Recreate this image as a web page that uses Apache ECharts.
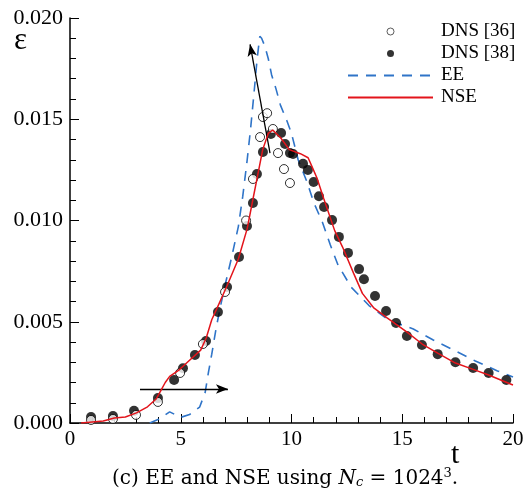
<!DOCTYPE html>
<html>
<head>
<meta charset="utf-8">
<script src="https://cdn.jsdelivr.net/npm/echarts@6/dist/echarts.min.js"></script>
<style>
  html, body { margin: 0; padding: 0; background: #fff; }
  #chart { width: 531px; height: 496px; }
</style>
</head>
<body>
<div id="chart"></div>
<script>
// Dissipation rate epsilon versus time t
const dns36 = [
  [0.95, 0.00015], [1.94, 0.0002], [2.98, 0.0004], [3.97, 0.00104], [4.97, 0.00247],
  [6.0, 0.0039], [7.0, 0.00647], [7.95, 0.0100], [8.26, 0.01205], [8.58, 0.01412],
  [8.71, 0.01511], [8.9, 0.0153], [9.16, 0.01452], [9.39, 0.01333], [9.66, 0.01254],
  [9.93, 0.01185]
];

const dns38 = [
  [0.95, 0.0003], [1.94, 0.00035], [2.89, 0.0006], [3.97, 0.00123], [4.7, 0.00212],
  [5.1, 0.0027], [5.64, 0.00336], [6.14, 0.00405], [6.68, 0.00548], [7.09, 0.00672],
  [7.63, 0.0082], [7.99, 0.00973], [8.26, 0.01086], [8.44, 0.0123], [8.71, 0.01338],
  [9.07, 0.01427], [9.53, 0.01432], [9.71, 0.01378], [9.93, 0.01333], [10.07, 0.01328],
  [10.52, 0.0128], [10.74, 0.0125], [11.0, 0.0119], [11.24, 0.0112], [11.47, 0.01067],
  [11.83, 0.01002], [12.14, 0.00919], [12.55, 0.0084], [13.05, 0.0076], [13.27, 0.0071],
  [13.77, 0.00627], [14.27, 0.00553], [14.72, 0.00494], [15.21, 0.0043], [15.89, 0.00385],
  [16.6, 0.0034], [17.4, 0.003], [18.2, 0.00272], [18.9, 0.00247], [19.7, 0.00212]
];

const ee = [
  [3.6, 0], [4.0, 0.00018], [4.5, 0.00055], [5.0, 0.00028], [5.4, 0.00042],
  [5.85, 0.00078], [6.1, 0.0015], [6.25, 0.0025], [6.4, 0.0034], [6.6, 0.0047],
  [6.8, 0.0058], [7.0, 0.0068], [7.3, 0.0082], [7.6, 0.0097], [7.8, 0.0112],
  [8.0, 0.0130], [8.15, 0.0145], [8.3, 0.0162], [8.45, 0.0180], [8.57, 0.0191],
  [8.65, 0.0190], [8.8, 0.0186], [8.95, 0.0180], [9.1, 0.0172], [9.3, 0.0165],
  [9.5, 0.0157], [9.8, 0.0149], [10.0, 0.0143], [10.3, 0.0130], [10.7, 0.0119],
  [11.0, 0.0109], [11.4, 0.0099], [11.75, 0.0088], [12.1, 0.0078], [12.7, 0.0067],
  [13.5, 0.0058], [14.5, 0.0050], [15.0, 0.00484], [15.5, 0.00464], [16.4, 0.0041],
  [17.4, 0.00356], [18.3, 0.00306], [19.3, 0.00257], [20.0, 0.00227]
];

const nse = [
  [0.5, 0], [1.0, 0.00005], [1.5, 0.0001], [2.0, 0.00025], [2.5, 0.0003],
  [3.0, 0.0005], [3.5, 0.0008], [3.9, 0.0012], [4.1, 0.0016], [4.3, 0.002],
  [4.5, 0.0023], [4.9, 0.0026], [5.3, 0.003], [5.9, 0.0036], [6.15, 0.0042],
  [6.4, 0.0051], [6.65, 0.0057], [7.1, 0.0068], [7.6, 0.0081], [8.0, 0.0096],
  [8.25, 0.011], [8.45, 0.0121], [8.7, 0.0135], [8.95, 0.0143], [9.15, 0.01447],
  [9.5, 0.0141], [9.9, 0.0135], [10.4, 0.0133], [10.75, 0.0131], [10.95, 0.0126],
  [11.15, 0.0121], [11.45, 0.0111], [11.95, 0.0095], [12.3, 0.0087], [12.8, 0.0074],
  [13.2, 0.0064], [13.7, 0.0057], [14.3, 0.0052], [15.2, 0.0045], [15.9, 0.0039],
  [16.6, 0.00345], [17.4, 0.00296], [18.2, 0.00265], [18.9, 0.00237], [19.5, 0.0021],
  [20.0, 0.00188]
];

// Annotation arrows (start point, end point) in data coordinates
const arrowRise = [[3.16, 0.00168], [7.13, 0.00168]];
const arrowPeak = [[9.03, 0.01333], [8.13, 0.0187]];

const seriesNames = ['DNS [36]', 'DNS [38]', 'EE', 'NSE'];
const xTicks = { min: 0, max: 20, step: 5 };
const yTicks = { min: 0, max: 0.02, step: 0.005 };

const serif = '"Liberation Serif", "DejaVu Serif", serif';
const wideSerif = '"DejaVu Serif", "Liberation Serif", serif';
const chart = echarts.init(document.getElementById('chart'), null, { renderer: 'canvas' });

const axisCommon = {
  axisLine: { show: true, onZero: false, lineStyle: { color: '#000', width: 1.5 } },
  axisTick: { show: true, inside: true, length: 9, lineStyle: { color: '#000', width: 1 } },
  minorTick: { show: true, splitNumber: 5, length: 6, lineStyle: { color: '#000', width: 1 } },
  splitLine: { show: false },
  minorSplitLine: { show: false }
};

function arrowLine(pair) {
  return [
    { coord: pair[0], symbol: 'none' },
    { coord: pair[1], symbol: 'arrow', symbolSize: [7, 12] }
  ];
}

// line entries in the legend show only the stroke, no marker
const hiddenMarker = { opacity: 0 };

chart.setOption({
  backgroundColor: '#fff',
  animation: false,
  grid: { left: 70, right: 18, top: 18, bottom: 73 },
  xAxis: Object.assign({
    type: 'value',
    min: xTicks.min, max: xTicks.max, interval: xTicks.step,
    axisLabel: { color: '#000', fontFamily: serif, fontSize: 21, margin: 6 }
  }, axisCommon),
  yAxis: Object.assign({
    type: 'value',
    min: yTicks.min, max: yTicks.max, interval: yTicks.step,
    axisLabel: {
      color: '#000', fontFamily: serif, fontSize: 22, margin: 7,
      formatter: v => v.toFixed(3)
    }
  }, axisCommon),
  legend: {
    data: [
      { name: seriesNames[0], icon: 'circle', itemStyle: { borderWidth: 0.8 } },
      { name: seriesNames[1], icon: 'circle' },
      { name: seriesNames[2], itemStyle: hiddenMarker },
      { name: seriesNames[3], itemStyle: hiddenMarker }
    ],
    orient: 'vertical',
    left: 342, top: 17,
    itemWidth: 85, itemHeight: 7, itemGap: 3,
    textStyle: { color: '#000', fontFamily: serif, fontSize: 19, padding: [0, 0, 0, 3] },
    selectedMode: false
  },
  series: [
    {
      name: seriesNames[0], type: 'scatter', data: dns36,
      symbol: 'circle', symbolSize: 9, z: 4,
      itemStyle: { color: '#fff', borderColor: '#000', borderWidth: 1 }
    },
    {
      name: seriesNames[1], type: 'scatter', data: dns38,
      symbol: 'circle', symbolSize: 10, z: 3,
      itemStyle: { color: '#000' }
    },
    {
      name: seriesNames[2], type: 'line', data: ee,
      symbol: 'none', z: 2,
      lineStyle: { color: '#2f74c8', width: 1.6, type: [10, 8] },
      itemStyle: { color: '#2f74c8' }
    },
    {
      name: seriesNames[3], type: 'line', data: nse,
      symbol: 'none', z: 5,
      lineStyle: { color: '#e3141b', width: 1.5 },
      itemStyle: { color: '#e3141b' },
      markLine: {
        silent: true, animation: false,
        label: { show: false },
        lineStyle: { color: '#000', width: 1.3, type: 'solid' },
        data: [arrowLine(arrowRise), arrowLine(arrowPeak)]
      }
    }
  ],
  graphic: [
    {
      type: 'text', left: 14, top: 25,
      style: { text: 'ε', font: '31px ' + serif, fill: '#000' }
    },
    {
      type: 'text', left: 451, top: 440,
      style: { text: 't', font: '30px ' + serif, fill: '#000' }
    },
    {
      type: 'text', left: 112, top: 467,
      style: {
        text: '(c) EE and NSE using {i|N}{sub|c} = 1024{sup|3}.',
        font: '20px ' + wideSerif, fill: '#000',
        rich: {
          i: { fontFamily: wideSerif, fontSize: 20, fontStyle: 'italic', fill: '#000' },
          sub: { fontFamily: wideSerif, fontSize: 13, fontStyle: 'italic', fill: '#000', padding: [8, 0, 0, 0] },
          sup: { fontFamily: wideSerif, fontSize: 13, fill: '#000', padding: [0, 0, 10, 0] }
        }
      }
    }
  ]
});
</script>
</body>
</html>
